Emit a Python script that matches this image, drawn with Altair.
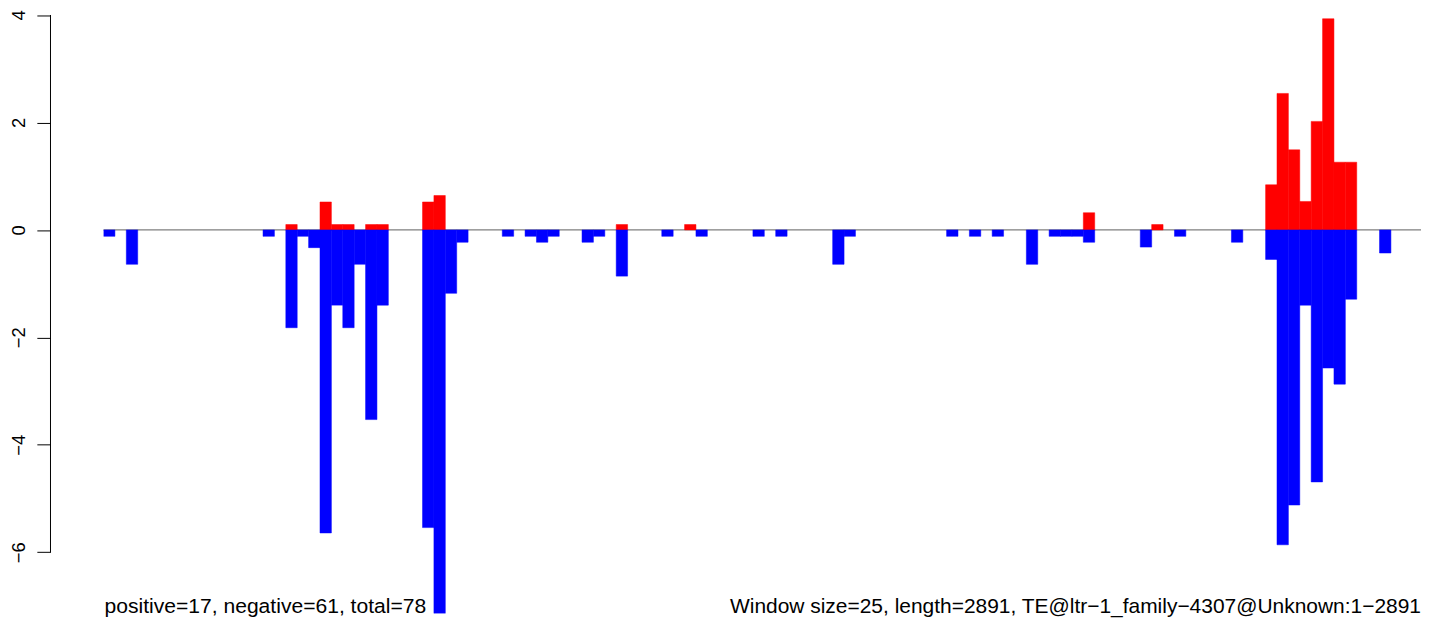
import altair as alt
import pandas as pd

LENGTH = 2891
WINDOW = 25

# window indices (0-based, 25 bp windows) and values
pos_idx = [16, 19, 20, 21, 23, 24, 28, 29, 45, 51, 86, 92,
           102, 103, 104, 105, 106, 107, 108, 109]
pos_val = [0.10, 0.52, 0.10, 0.10, 0.10, 0.10, 0.52, 0.64, 0.10, 0.10, 0.32, 0.10,
           0.84, 2.54, 1.49, 0.53, 2.02, 3.93, 1.26, 1.26]

neg_idx = [0, 2, 14, 16, 17, 18, 19, 20, 21, 22, 23, 24, 28, 29, 30, 31,
           35, 37, 38, 39, 42, 43, 45, 49, 52, 57, 59, 64, 65,
           74, 76, 78, 81, 83, 84, 85, 86, 91, 94, 99,
           102, 103, 104, 105, 106, 107, 108, 109, 112]
neg_val = [-0.12, -0.64, -0.12, -1.82, -0.12, -0.33, -5.64, -1.40, -1.82, -0.64, -3.53, -1.40, -5.54, -7.14, -1.18, -0.23,
           -0.12, -0.12, -0.23, -0.12, -0.23, -0.12, -0.86, -0.12, -0.12, -0.12, -0.12, -0.64, -0.12,
           -0.12, -0.12, -0.12, -0.64, -0.12, -0.12, -0.12, -0.23, -0.32, -0.12, -0.23,
           -0.55, -5.86, -5.12, -1.40, -4.69, -2.57, -2.87, -1.29, -0.43]

y_ticks = [-6, -4, -2, 0, 2, 4]
left_note = "positive=17, negative=61, total=78"
right_note = "Window size=25, length=2891, TE@ltr\u22121_family\u22124307@Unknown:1\u22122891"

rows = []
for i, v in zip(pos_idx, pos_val):
    rows.append({"start": i * WINDOW, "end": min((i + 1) * WINDOW, LENGTH), "value": v, "sign": "pos"})
for i, v in zip(neg_idx, neg_val):
    rows.append({"start": i * WINDOW, "end": min((i + 1) * WINDOW, LENGTH), "value": v, "sign": "neg"})
bars_df = pd.DataFrame(rows)

FONT = "Liberation Sans"
xscale = alt.Scale(domain=[0, LENGTH], nice=False, zero=False)
yscale = alt.Scale(domain=[-7.139, 4.102], nice=False, zero=False)


def y_axis():
    return alt.Axis(
        values=y_ticks, domain=False, grid=False, ticks=True,
        tickSize=13.7, tickColor="black", tickWidth=1, offset=53.3,
        labelAngle=270, labelAlign="center", labelBaseline="alphabetic",
        labelPadding=12.5, labelFont=FONT, labelFontSize=18.5, labelColor="black",
        labelFlush=False, labelOverlap=False, title=None,
    )


zero_line = alt.Chart(pd.DataFrame({"x0": [0], "x1": [LENGTH], "y": [0]})).mark_rule(
    color="#7f7f7f", strokeWidth=1.3
).encode(
    x=alt.X("x0:Q", scale=xscale, axis=None),
    x2="x1:Q",
    y=alt.Y("y:Q", scale=yscale, axis=y_axis()),
)

bars = alt.Chart(bars_df).mark_rect(strokeWidth=0.5, clip=True).encode(
    x=alt.X("start:Q", scale=xscale, axis=None),
    x2="end:Q",
    y=alt.Y("value:Q", scale=yscale, axis=y_axis()),
    y2=alt.datum(0),
    color=alt.Color("sign:N", scale=alt.Scale(domain=["pos", "neg"], range=["#FF0000", "#0000FF"]), legend=None),
    stroke=alt.Stroke("sign:N", scale=alt.Scale(domain=["pos", "neg"], range=["#FF0000", "#0000FF"]), legend=None),
)

axis_line = alt.Chart(pd.DataFrame({"a": [-6], "b": [4]})).mark_rule(color="black", strokeWidth=1).encode(
    x=alt.value(-53.3),
    y=alt.Y("a:Q", scale=yscale, axis=y_axis()),
    y2="b:Q",
)

left_text = alt.Chart(pd.DataFrame({"t": [left_note]})).mark_text(
    align="left", baseline="alphabetic", font=FONT, fontSize=21.2, color="black"
).encode(text="t:N", x=alt.value(1), y=alt.value(606))

right_text = alt.Chart(pd.DataFrame({"t": [right_note]})).mark_text(
    align="right", baseline="alphabetic", font=FONT, fontSize=21.05, color="black"
).encode(text="t:N", x=alt.value(1324), y=alt.value(606))

chart = alt.layer(zero_line, bars, axis_line, left_text, right_text).properties(
    width=1324, height=607,
    padding={"left": 96, "top": 0, "right": 0, "bottom": 4},
    autosize=alt.AutoSizeParams(type="none"),
).configure_view(stroke=None)

chart.save("out.html", embed_options={"renderer": "svg", "actions": False})
